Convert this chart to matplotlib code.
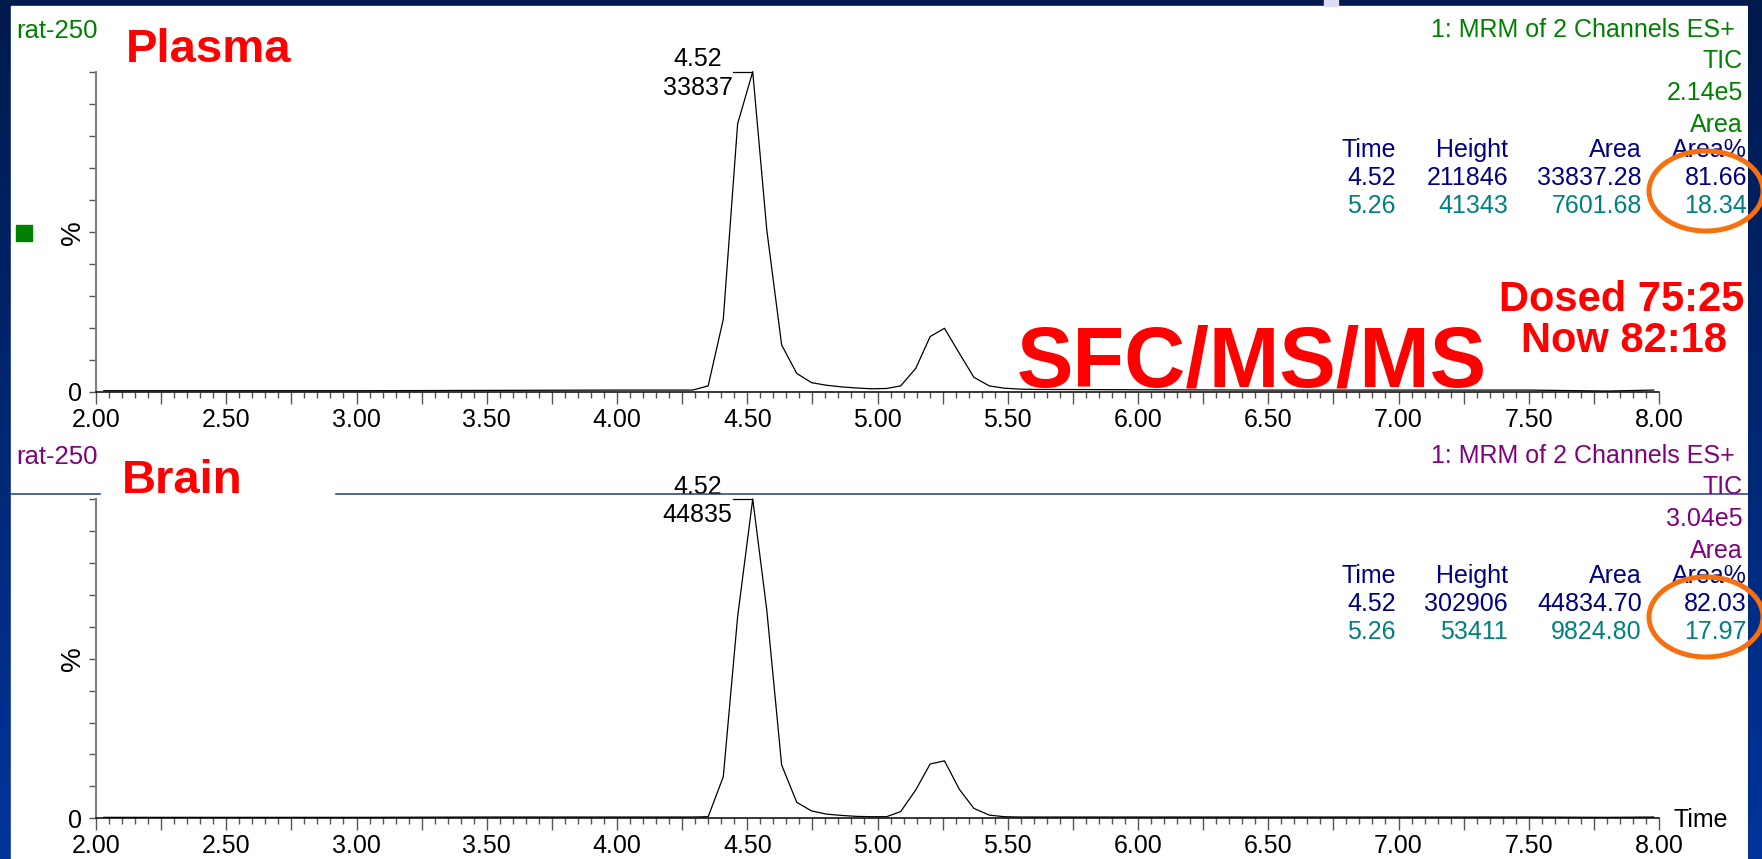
import matplotlib
matplotlib.use("Agg")
import matplotlib.pyplot as plt
import numpy as np
from matplotlib.patches import Rectangle, Ellipse
from matplotlib.lines import Line2D
from matplotlib.ticker import MultipleLocator, FuncFormatter

plt.rcParams['font.family'] = ['Liberation Sans', 'DejaVu Sans']

W, H = 1762, 859

# ---------------- data ----------------
time_min = [2.03, 2.50, 3.00, 3.50, 4.00, 4.18, 4.29, 4.350, 4.408, 4.463, 4.521,
            4.575, 4.632, 4.690, 4.747, 4.805, 4.862, 4.920, 4.977, 5.035, 5.089,
            5.147, 5.202, 5.257, 5.314, 5.370, 5.429, 5.486, 5.545, 5.60, 6.00,
            6.50, 7.00, 7.50, 7.80, 7.98]
plasma_pct = [0.4, 0.4, 0.4, 0.5, 0.6, 0.6, 0.6, 1.9, 22.7, 83.7, 100.0,
              50.6, 14.7, 5.8, 2.9, 2.1, 1.6, 1.25, 1.0, 1.1, 1.9,
              7.4, 17.3, 19.9, 12.1, 4.6, 1.9, 1.2, 0.9, 0.8, 0.7,
              0.6, 0.6, 0.6, 0.3, 0.6]
brain_pct = [0.3, 0.3, 0.3, 0.4, 0.4, 0.4, 0.4, 0.5, 13.0, 63.1, 100.0,
             65.2, 16.7, 5.0, 2.3, 1.3, 0.9, 0.6, 0.5, 0.5, 2.1,
             8.9, 17.0, 18.0, 9.1, 3.1, 1.0, 0.5, 0.4, 0.4, 0.4,
             0.4, 0.4, 0.4, 0.3, 0.4]

table_header = ["Time", "Height", "Area", "Area%"]
plasma_table = [["4.52", "211846", "33837.28", "81.66"],
                ["5.26", "41343", "7601.68", "18.34"]]
brain_table = [["4.52", "302906", "44834.70", "82.03"],
               ["5.26", "53411", "9824.80", "17.97"]]
plasma_info = ["1: MRM of 2 Channels ES+", "TIC", "2.14e5", "Area"]
brain_info = ["1: MRM of 2 Channels ES+", "TIC", "3.04e5", "Area"]
peak_rt = 4.52
plasma_peak_area = "33837"
brain_peak_area = "44835"

GREEN = "#008000"
PURPLE = "#800080"
NAVY = "#000080"
TEAL = "#008080"
RED = "#FF0000"
ORANGE = "#F7700F"

fig = plt.figure(figsize=(W / 100, H / 100), dpi=100)


def fx(px):
    return px / W


def fy(py):
    return 1 - py / H


def ftext(x, y, s, **kw):
    fig.text(fx(x), fy(y), s, **kw)


# ---------------- background frame ----------------
grad = np.linspace(0, 1, 256)[:, None]
c_top = np.array([0, 26, 77]) / 255
c_bot = np.array([0, 52, 155]) / 255
img = (c_top[None, None, :] * (1 - grad[:, :, None]) + c_bot[None, None, :] * grad[:, :, None])
bg = fig.add_axes([0, 0, 1, 1], zorder=-10)
bg.imshow(img, aspect='auto', extent=[0, 1, 0, 1])
bg.axis('off')
fig.add_artist(Rectangle((fx(11), 0), fx(1748) - fx(11), 1 - 6 / H,
                         transform=fig.transFigure, color='white', zorder=-5))
strip = fig.add_axes([fx(1748), 0, 1 - fx(1748), 1], zorder=5)
strip.imshow(img, aspect='auto', extent=[0, 1, 0, 1])
strip.axis('off')
fig.add_artist(Rectangle((fx(1324), fy(6)), fx(14), 6 / H, transform=fig.transFigure,
                         color='#dcdcf5', zorder=5))

# ---------------- panels ----------------
panels = [
    dict(y0=392.0, y1=71.7, data=plasma_pct, area=plasma_peak_area),
    dict(y0=818.3, y1=499.0, data=brain_pct, area=brain_peak_area),
]


def fmt(v, p):
    if abs(v * 2 - round(v * 2)) < 1e-6:
        return f"{v:.2f}"
    return ""


for p in panels:
    ax = fig.add_axes([fx(96), fy(p['y0']), fx(1659) - fx(96), (p['y0'] - p['y1']) / H])
    ax.set_facecolor('none')
    ax.plot(time_min, p['data'], color='black', lw=0.9, clip_on=False)
    ax.set_xlim(2.0, 8.0)
    ax.set_ylim(0, 100)
    for s in ['top', 'right']:
        ax.spines[s].set_visible(False)
    ax.spines['left'].set_color('#808080')
    ax.spines['left'].set_linewidth(1.5)
    ax.spines['bottom'].set_color('black')
    ax.spines['bottom'].set_linewidth(1.1)
    ax.xaxis.set_major_locator(MultipleLocator(0.25))
    ax.xaxis.set_minor_locator(MultipleLocator(0.05))
    ax.xaxis.set_major_formatter(FuncFormatter(fmt))
    ax.yaxis.set_major_locator(MultipleLocator(10))
    ax.yaxis.set_major_formatter(FuncFormatter(lambda v, q: "0" if v == 0 else ""))
    ax.tick_params(axis='x', which='major', length=8.6, width=1.0, color='#555555',
                   labelsize=18, pad=3)
    ax.tick_params(axis='x', which='minor', length=4.3, width=1.0, color='#555555')
    ax.tick_params(axis='y', which='major', length=5, width=1.0, color='#555555',
                   labelsize=18, pad=5)
    # peak label
    ax.plot([4.445, peak_rt], [100, 100], color='black', lw=0.9, clip_on=False)
    ax.text(4.309, 101.7, f"{peak_rt:.2f}", ha='center', va='baseline', fontsize=18)
    ax.text(4.309, 92.8, p['area'], ha='center', va='baseline', fontsize=18)

# ---------------- texts ----------------
SMALL = 18
for off, col, info, table, name in [(0, GREEN, plasma_info, plasma_table, "Plasma"),
                                     (426, PURPLE, brain_info, brain_table, "Brain")]:
    ftext(16, 38 + off, "rat-250", color=col, fontsize=18.5, va='baseline', ha='left')
    ftext(73, 233 + off, "%", rotation=90, fontsize=20, ha='center', va='center')
    ftext(1735, 37 + off, info[0], color=col, fontsize=SMALL, ha='right', va='baseline')
    ftext(1743, 68 + off, info[1], color=col, fontsize=SMALL, ha='right', va='baseline')
    ftext(1743, 100 + off, info[2], color=col, fontsize=SMALL, ha='right', va='baseline')
    ftext(1743, 132 + off, info[3], color=col, fontsize=SMALL, ha='right', va='baseline')
    cols_x = [1396, 1508, 1642, 1747]
    for cx, h in zip(cols_x, table_header):
        ftext(cx, 157 + off, h, color=NAVY, fontsize=SMALL, ha='right', va='baseline')
    for cx, v in zip(cols_x, table[0]):
        ftext(cx, 185 + off, v, color=NAVY, fontsize=SMALL, ha='right', va='baseline')
    for cx, v in zip(cols_x, table[1]):
        ftext(cx, 213 + off, v, color=TEAL, fontsize=SMALL, ha='right', va='baseline')
    fig.add_artist(Ellipse((fx(1706), fy(191 + off)), fx(114), 80 / H, angle=0,
                           transform=fig.transFigure, fill=False, edgecolor=ORANGE,
                           lw=3.6, zorder=8))

# green marker
fig.add_artist(Rectangle((fx(16), fy(241)), fx(16), 16 / H, transform=fig.transFigure,
                         color=GREEN, zorder=3))

# blue separator line in lower panel (over text)
for xa, xb in [(11, 100), (336, 1748)]:
    fig.add_artist(Line2D([fx(xa), fx(xb)], [fy(494), fy(494)], transform=fig.transFigure,
                          color='#1a3a8f', lw=1.1, zorder=4))

ftext(126, 62, "Plasma", color=RED, fontsize=34, fontweight='bold', ha='left', va='baseline')
ftext(122, 493, "Brain", color=RED, fontsize=34, fontweight='bold', ha='left', va='baseline')
ftext(1017, 387, "SFC/MS/MS", color=RED, fontsize=61, fontweight='bold', ha='left', va='baseline')
ftext(1744, 311, "Dosed 75:25", color=RED, fontsize=30, fontweight='bold', ha='right', va='baseline')
ftext(1727, 352, "Now 82:18", color=RED, fontsize=30, fontweight='bold', ha='right', va='baseline')
ftext(1673, 827, "Time", fontsize=SMALL, ha='left', va='baseline')

fig.savefig("out.png", dpi=100)
